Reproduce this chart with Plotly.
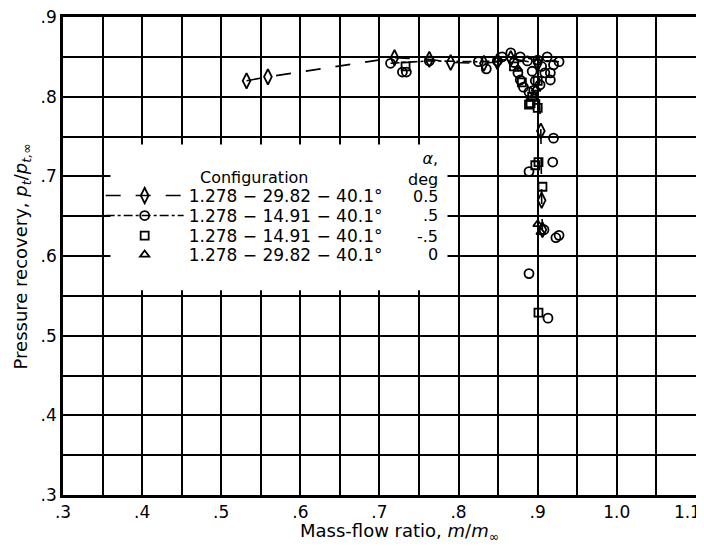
import plotly.graph_objects as go

# ---------------- data ----------------
configs = ["1.278 \u2212 29.82 \u2212 40.1\u00b0", "1.278 \u2212 14.91 \u2212 40.1\u00b0",
           "1.278 \u2212 14.91 \u2212 40.1\u00b0", "1.278 \u2212 29.82 \u2212 40.1\u00b0"]
alphas = ["0.5", ".5", "-.5", "0"]

# diamonds, alpha 0.5 (faired, dashed)
x1 = [0.532, 0.559, 0.719, 0.763, 0.790, 0.832, 0.849, 0.866, 0.900, 0.904, 0.905, 0.906]
y1 = [0.820, 0.825, 0.849, 0.847, 0.843, 0.842, 0.844, 0.848, 0.842, 0.757, 0.670, 0.633]

# circles, alpha .5 (faired, dash-dot)
x2 = [0.714, 0.763, 0.825, 0.849, 0.878, 0.900, 0.927]
y2 = [0.842, 0.845, 0.844, 0.845, 0.850, 0.846, 0.844]
# additional circles (same configuration)
x2b = [0.729, 0.734, 0.835, 0.855, 0.866, 0.870, 0.875, 0.878, 0.882, 0.889, 0.895, 0.893,
       0.905, 0.909, 0.916, 0.916, 0.912, 0.920, 0.919, 0.889, 0.908, 0.923, 0.927, 0.889,
       0.913, 0.887, 0.897, 0.903, 0.920]
y2b = [0.831, 0.831, 0.835, 0.850, 0.855, 0.843, 0.830, 0.821, 0.812, 0.806, 0.808, 0.832,
       0.838, 0.830, 0.830, 0.821, 0.850, 0.748, 0.718, 0.706, 0.633, 0.623, 0.626, 0.578,
       0.522, 0.845, 0.820, 0.815, 0.840]

# squares, alpha -.5
x3 = [0.733, 0.870, 0.880, 0.889, 0.891, 0.893, 0.900, 0.900, 0.897, 0.901, 0.906, 0.901]
y3 = [0.838, 0.838, 0.818, 0.790, 0.792, 0.800, 0.786, 0.820, 0.714, 0.718, 0.687, 0.529]

# triangles, alpha 0
x4 = [0.850, 0.875, 0.898, 0.900, 0.904]
y4 = [0.847, 0.835, 0.810, 0.640, 0.630]

xtick_vals = [0.3, 0.4, 0.5, 0.6, 0.7, 0.8, 0.9, 1.0, 1.1]
xtick_text = [".3", ".4", ".5", ".6", ".7", ".8", ".9", "1.0", "1.1"]
ytick_vals = [0.3, 0.4, 0.5, 0.6, 0.7, 0.8, 0.9]
ytick_text = [".3", ".4", ".5", ".6", ".7", ".8", ".9"]

# ---------------- figure ----------------
FONT = "DejaVu Sans"
BLK = "black"
MK = dict(color=BLK, line=dict(width=1.8, color=BLK))

# last x label sits at the right edge: pad it so it stays inside the page
xtick_shown = xtick_text[:-1] + [xtick_text[-1] + "\u2003"]

fig = go.Figure()
fig.add_trace(go.Scatter(x=x1, y=y1, mode="lines+markers", name=configs[0], legend="legend",
                         line=dict(color=BLK, width=1.6, dash="longdash"),
                         marker=dict(symbol="diamond-tall-open", size=11, **MK)))
fig.add_trace(go.Scatter(x=x2, y=y2, mode="lines+markers", name=configs[1], legend="legend2",
                         legendgroup="g2",
                         line=dict(color=BLK, width=1.6, dash="dashdot"),
                         marker=dict(symbol="circle-open", size=9, **MK)))
fig.add_trace(go.Scatter(x=x2b, y=y2b, mode="markers", name=configs[1], legend="legend2",
                         legendgroup="g2", showlegend=False,
                         marker=dict(symbol="circle-open", size=9, **MK)))
fig.add_trace(go.Scatter(x=x3, y=y3, mode="markers", name=configs[2], legend="legend3",
                         marker=dict(symbol="square-open", size=8, **MK)))
fig.add_trace(go.Scatter(x=x4, y=y4, mode="markers", name=configs[3], legend="legend4",
                         marker=dict(symbol="triangle-up-open", size=8, **MK)))

# white box behind the legend (covers grid)
fig.add_shape(type="rect", xref="x", yref="y", x0=0.36, x1=0.786, y0=0.557, y1=0.740,
              fillcolor="white", line=dict(width=0), layer="above")

# legend headers and alpha column
fig.add_annotation(text="Configuration", xref="paper", yref="paper", x=0.303, y=0.664,
                   xanchor="center", yanchor="middle", showarrow=False,
                   font=dict(size=16, family=FONT, color=BLK))
fig.add_annotation(text="<i>\u03b1</i>,<br>deg", xref="paper", yref="paper", x=0.596, y=0.681,
                   xanchor="right", yanchor="middle", showarrow=False, align="right",
                   font=dict(size=16, family=FONT, color=BLK))
row_y = [0.6255, 0.5837, 0.5418, 0.5021]
for a, ry in zip(alphas, row_y):
    fig.add_annotation(text=a, xref="paper", yref="paper", x=0.596, y=ry,
                       xanchor="right", yanchor="middle",
                       showarrow=False, font=dict(size=16, family=FONT, color=BLK))

# axis titles
fig.add_annotation(text="Mass-flow ratio, <i>m</i>/<i>m</i><sub>\u221e</sub>",
                   xref="paper", yref="paper", x=0.532, y=-0.078,
                   xanchor="center", yanchor="middle", showarrow=False,
                   font=dict(size=18, family=FONT, color=BLK))
fig.add_annotation(text="Pressure recovery, <i>p<sub>t</sub></i>/<i>p<sub>t,\u221e</sub></i>",
                   xref="paper", yref="paper", x=-0.064, y=0.5, textangle=-90,
                   xanchor="center", yanchor="middle", showarrow=False,
                   font=dict(size=18, family=FONT, color=BLK))

leg_common = dict(x=0.0595, xanchor="left", yanchor="middle", bgcolor="rgba(0,0,0,0)",
                  borderwidth=0, itemwidth=78, font=dict(size=17, family=FONT, color=BLK))

axis_common = dict(showline=True, linewidth=2.5, linecolor=BLK, mirror=True,
                   showgrid=True, gridcolor=BLK, gridwidth=2.2, zeroline=False,
                   ticks="", tickfont=dict(size=17, family=FONT, color=BLK),
                   ticklabeloverflow="allow", automargin=False)

fig.update_layout(
    width=696, height=538,
    margin=dict(l=55, r=8, t=9, b=51),
    paper_bgcolor="white", plot_bgcolor="white",
    font=dict(family=FONT, color=BLK),
    showlegend=True,
    legend=dict(y=row_y[0], **leg_common),
    legend2=dict(y=row_y[1], **leg_common),
    legend3=dict(y=row_y[2], **leg_common),
    legend4=dict(y=row_y[3], **leg_common),
    xaxis=dict(range=[0.3, 1.1001], tickvals=xtick_vals, ticktext=xtick_shown,
               minor=dict(dtick=0.05, showgrid=True, gridcolor=BLK, gridwidth=2.2),
               **axis_common),
    yaxis=dict(range=[0.3, 0.9001], tickvals=ytick_vals, ticktext=ytick_text,
               minor=dict(dtick=0.05, showgrid=True, gridcolor=BLK, gridwidth=2.2),
               **axis_common),
)

fig.write_html("out.html")
